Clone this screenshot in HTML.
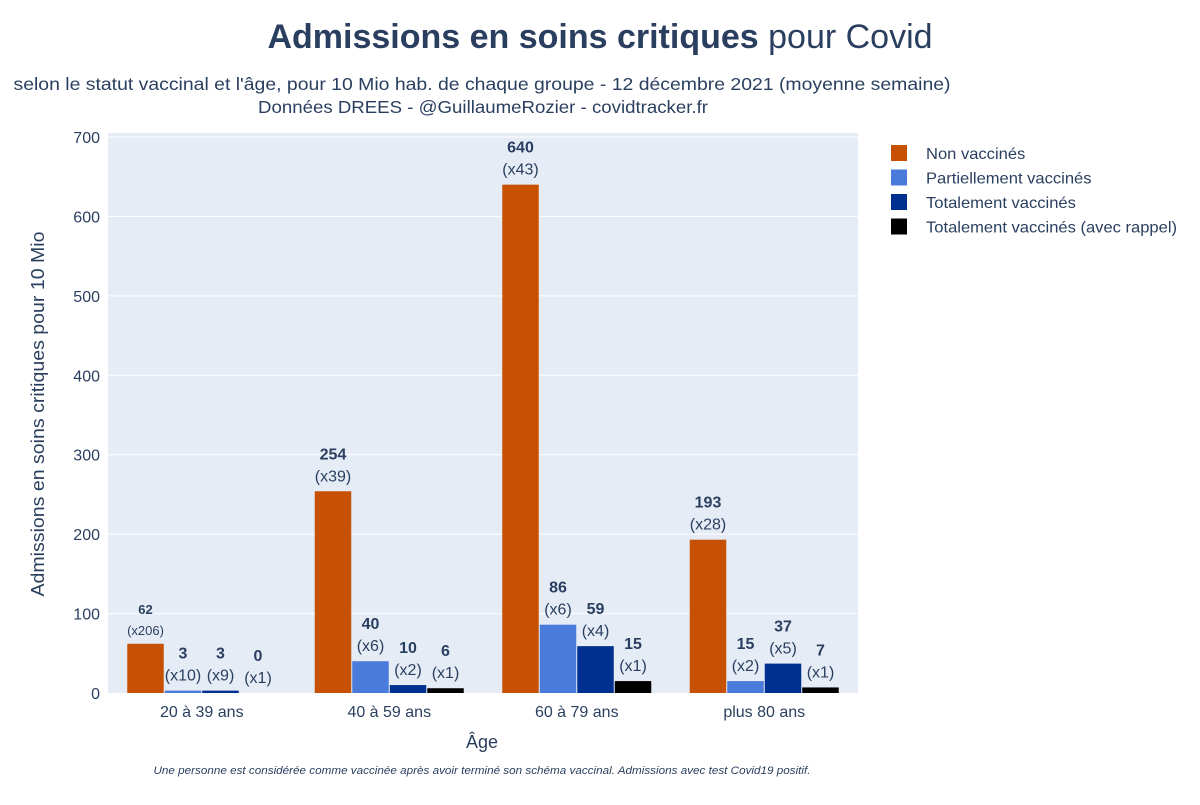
<!DOCTYPE html>
<html><head><meta charset="utf-8">
<style>
body{margin:0;background:#fff;font-family:"Liberation Sans",sans-serif;}
svg text{font-family:"Liberation Sans",sans-serif;}
</style></head>
<body>
<svg id="chart" width="1200" height="800" xmlns="http://www.w3.org/2000/svg">
<rect x="0" y="0" width="1200" height="800" fill="#fff"/>
<text x="600" y="48" text-anchor="middle" font-size="34" fill="#2a3f5f"><tspan font-weight="bold">Admissions en soins critiques</tspan> pour Covid</text>
<text x="482" y="90" text-anchor="middle" font-size="17.5" fill="#2a3f5f" textLength="937" lengthAdjust="spacingAndGlyphs">selon le statut vaccinal et l'âge, pour 10 Mio hab. de chaque groupe - 12 décembre 2021 (moyenne semaine)</text>
<text x="483" y="113" text-anchor="middle" font-size="17.5" fill="#2a3f5f" textLength="450" lengthAdjust="spacingAndGlyphs">Données DREES - @GuillaumeRozier - covidtracker.fr</text>
<rect x="108" y="133" width="750" height="560" fill="#e5ecf6"/>
<g id="grid"></g>
<g id="bars"></g>
<g id="labels"></g>
<g id="axes"></g>
<text transform="translate(44,414) rotate(-90)" text-anchor="middle" font-size="18" fill="#2a3f5f" textLength="365" lengthAdjust="spacingAndGlyphs">Admissions en soins critiques pour 10 Mio</text>
<text x="482" y="748" text-anchor="middle" font-size="18" fill="#2a3f5f">Âge</text>
<text x="482" y="774" text-anchor="middle" font-size="11" font-style="italic" fill="#2a3f5f" textLength="657" lengthAdjust="spacingAndGlyphs">Une personne est considérée comme vaccinée après avoir terminé son schéma vaccinal. Admissions avec test Covid19 positif.</text>
<g id="legend"></g>
</svg>
<script>
const categories=["20 à 39 ans","40 à 59 ans","60 à 79 ans","plus 80 ans"];
const seriesNames=["Non vaccinés","Partiellement vaccinés","Totalement vaccinés","Totalement vaccinés (avec rappel)"];
const seriesColors=["#c65102","#4a7bdb","#00308f","#000000"];
const nonVax=[62,254,640,193];
const partVax=[3,40,86,15];
const fullVax=[3,10,59,37];
const boostVax=[0,6,15,7];
const ratioNon=["x206","x39","x43","x28"];
const ratioPart=["x10","x6","x6","x2"];
const ratioFull=["x9","x2","x4","x5"];
const ratioBoost=["x1","x1","x1","x1"];
const yTicks=[0,100,200,300,400,500,600,700];

const NS="http://www.w3.org/2000/svg";
const X0=108,W=750,Y0=693,Y1=137,YMAX=700;
const y=v=>Y0-(v/YMAX)*(Y0-Y1);
const bandW=W/categories.length;
const barW=bandW*0.8/4;
const xBar=(c,s)=>X0+c*bandW+bandW*0.1+s*barW;
function mk(tag,attrs,parent){const e=document.createElementNS(NS,tag);for(const k in attrs)e.setAttribute(k,attrs[k]);parent.appendChild(e);return e;}
const grid=document.getElementById('grid'),axes=document.getElementById('axes');
yTicks.forEach(t=>{
  if(t>0){const l=mk('line',{x1:X0,x2:X0+W,y1:y(t),y2:y(t),stroke:'#fff','stroke-width':1},grid);
  
  }
  const tx=mk('text',{x:X0-8,y:y(t)+6,'text-anchor':'end','font-size':16,fill:'#2a3f5f'},axes);
  tx.textContent=t;
  
  
});
categories.forEach((c,i)=>{
  const tx=mk('text',{x:X0+bandW*(i+0.5),y:Y0+24,'text-anchor':'middle','font-size':16,fill:'#2a3f5f'},axes);
  tx.textContent=c;
  
  
});
const vals=[nonVax,partVax,fullVax,boostVax];
const ratios=[ratioNon,ratioPart,ratioFull,ratioBoost];
const bars=document.getElementById('bars'),labels=document.getElementById('labels');
vals.forEach((arr,s)=>{
  arr.forEach((v,c)=>{
    const bx=xBar(c,s),top=y(v);
    const r=mk('rect',{x:bx+0.5,y:top,width:barW-1,height:Y0-top,fill:seriesColors[s]},bars);
    
    
    const small=(s===0&&c===0);
    const fs=small?13:16;
    const cx=bx+barW/2;
    const t1=mk('text',{x:cx,y:top-(small?30:32),'text-anchor':'middle','font-size':fs,'font-weight':'bold',fill:'#2a3f5f'},labels);
    t1.textContent=v;
    
    
    const t2=mk('text',{x:cx,y:top-(small?9:10),'text-anchor':'middle','font-size':fs,fill:'#2a3f5f'},labels);
    t2.textContent='('+ratios[s][c]+')';
    
    
  });
});
const legend=document.getElementById('legend');
seriesNames.forEach((n,i)=>{
  const yy=153+i*24.5;
  const r=mk('rect',{x:891,y:yy-8,width:16,height:16,fill:seriesColors[i]},legend);
  
  
  const t=mk('text',{x:926,y:yy+6,'font-size':16,fill:'#2a3f5f',transform:'translate(926,0) scale(1.035,1) translate(-926,0)'},legend);
  t.textContent=n;
  
  
});
</script>
</body></html>
